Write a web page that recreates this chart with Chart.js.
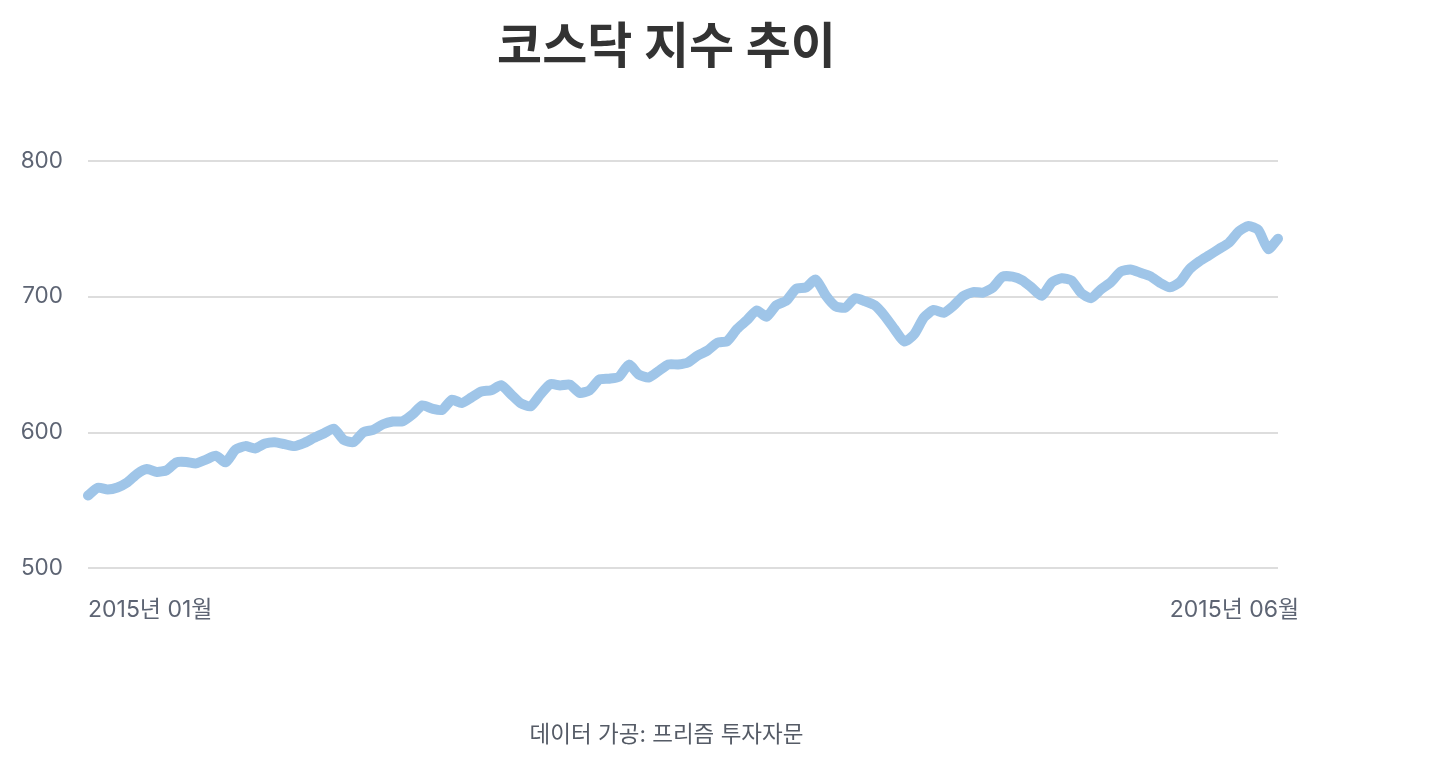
<!DOCTYPE html>
<html lang="ko">
<head>
<meta charset="utf-8">
<title>코스닥 지수 추이</title>
<script src="https://cdn.jsdelivr.net/npm/chart.js@4.4.1/dist/chart.umd.min.js"></script>
<style>
  html, body { margin: 0; padding: 0; background: #fff; }
  #wrap { position: relative; width: 1333px; height: 765px; }
</style>
</head>
<body>
<div id="wrap"><canvas id="kosdaq-chart"></canvas></div>
<script>
// KOSDAQ daily close, Jan - Jun 2015
const kosdaqValues = [
  553.7, 559.3, 558.1, 559.6, 563.3, 569.6, 573.1, 571.0, 572.3, 578.1,
  578.3, 577.3, 580.1, 583.0, 578.1, 587.4, 590.0, 588.3, 591.9, 592.9,
  591.4, 590.0, 592.4, 596.1, 599.4, 602.8, 594.6, 592.9, 600.2, 602.0,
  606.1, 608.1, 608.3, 613.3, 620.0, 617.6, 616.6, 624.2, 621.7, 625.9,
  630.2, 631.1, 634.8, 628.2, 621.6, 619.3, 628.0, 635.6, 634.7, 635.3,
  629.2, 631.1, 639.0, 639.6, 641.1, 650.0, 642.7, 640.5, 645.2, 650.1,
  650.1, 651.5, 656.7, 660.4, 666.1, 667.3, 676.3, 682.7, 689.9, 685.2,
  693.8, 697.0, 705.8, 706.8, 712.6, 701.0, 693.0, 691.9, 698.9, 696.7,
  693.6, 685.9, 676.1, 667.0, 672.2, 684.7, 690.2, 688.1, 693.3, 700.4,
  703.4, 703.0, 706.7, 714.7, 714.7, 712.0, 706.4, 700.7, 710.5, 713.6,
  712.0, 702.6, 698.9, 705.4, 710.6, 718.4, 720.0, 717.6, 715.1, 710.2,
  706.9, 710.6, 720.2, 726.0, 730.5, 735.1, 739.6, 748.0, 752.0, 749.0,
  735.0, 742.7
];

// trading day index for each value
const tradingDays = kosdaqValues.map((v, i) => i);

// x tick labels and the trading day they sit on
const xTickLabels = ['2015년 01월', '2015년 06월'];
const xTickDays = [0, 110];

// y axis ticks
const yTicks = [500, 600, 700, 800];

const fontFamily = "Inter, 'Noto Sans CJK KR', 'Noto Sans', sans-serif";
const tickColor = '#5d6473';

const ctx = document.getElementById('kosdaq-chart').getContext('2d');
const kosdaqChart = new Chart(ctx, {
    type: 'line',
    data: {
        labels: tradingDays,
        datasets: [{
            label: '코스닥',
            data: kosdaqValues,
            borderColor: '#9fc5e8',
            backgroundColor: '#9fc5e8',
            borderWidth: 10,
            borderCapStyle: 'round',
            borderJoinStyle: 'round',
            pointRadius: 0,
            pointHoverRadius: 0,
            tension: 0.2,
            fill: false
        }]
    },
    options: {
        responsive: true,
        maintainAspectRatio: false,
        animation: false,
        layout: {
            padding: 0
        },
        plugins: {
            legend: { display: false },
            tooltip: { enabled: false },
            title: {
                display: true,
                text: '코스닥 지수 추이',
                color: '#333333',
                font: { family: fontFamily, size: 49, weight: 'bold', lineHeight: 1.2 },
                padding: { top: 19, bottom: 83 }
            },
            subtitle: {
                display: true,
                position: 'bottom',
                text: '데이터 가공: 프리즘 투자자문',
                color: '#555b66',
                font: { family: fontFamily, size: 22.5, weight: 'normal', lineHeight: 1.2 },
                padding: { top: 70, bottom: 16 }
            }
        },
        scales: {
            x: {
                type: 'category',
                afterFit: function (scale) {
                    // room on the right of the plot, like the reference
                    scale.paddingLeft = 0;
                    scale.paddingRight = 55;
                },
                grid: { display: false, drawTicks: false },
                border: { display: false },
                ticks: {
                    autoSkip: false,
                    maxRotation: 0,
                    minRotation: 0,
                    align: 'start',
                    padding: 28,
                    color: tickColor,
                    font: { family: fontFamily, size: 23 },
                    callback: function (value, index) {
                        const k = xTickDays.indexOf(index);
                        return k >= 0 ? xTickLabels[k] : '';
                    }
                }
            },
            y: {
                min: yTicks[0],
                max: yTicks[yTicks.length - 1],
                afterBuildTicks: function (scale) {
                    scale.ticks = yTicks.map(v => ({ value: v }));
                },
                afterFit: function (scale) {
                    scale.width = 88;
                },
                grid: { color: '#dddddd', lineWidth: 2, drawTicks: false },
                border: { display: false },
                ticks: {
                    padding: 25,
                    color: tickColor,
                    font: { family: fontFamily, size: 22.5 }
                }
            }
        }
    }
});
</script>
</body>
</html>
